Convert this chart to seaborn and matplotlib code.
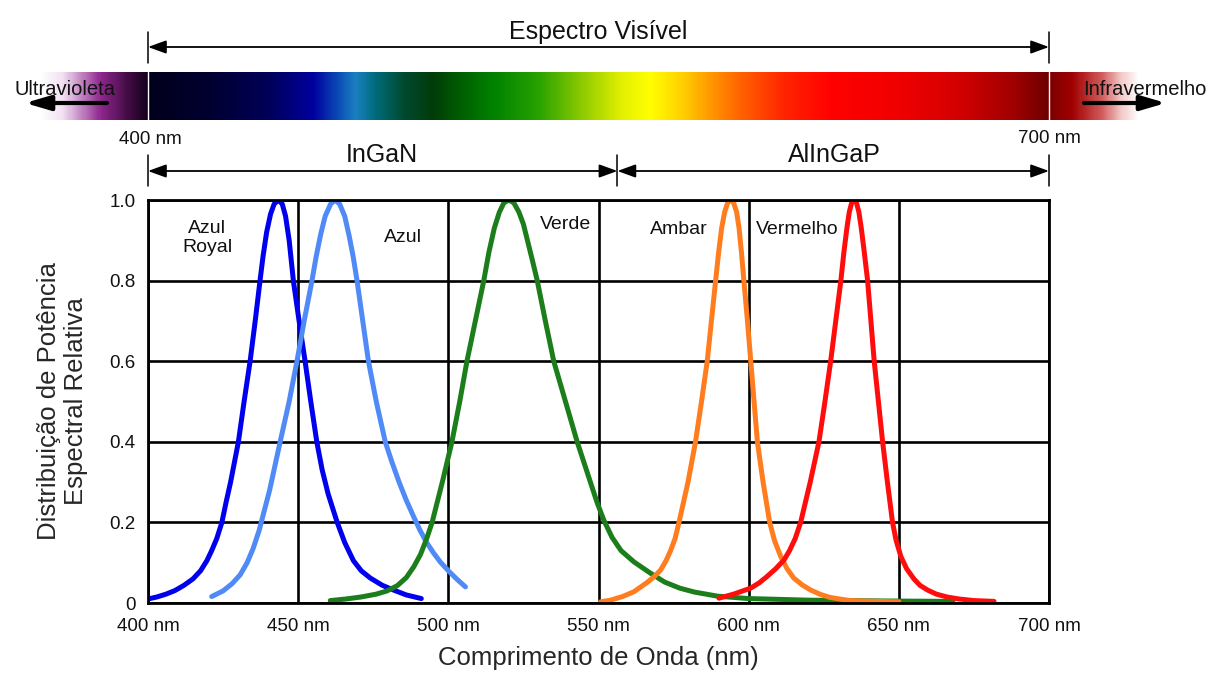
import numpy as np
import pandas as pd
import matplotlib
matplotlib.use("Agg")
import matplotlib.pyplot as plt
import seaborn as sns
from matplotlib.colors import LinearSegmentedColormap

# ---- Relative spectral power of each LED (wavelength in nm, relative power) ----
royal_nm = [400, 403, 406, 409, 412, 415, 417.5, 419.6, 421.2, 422.9, 424.6, 426, 427.5,
            428.8, 430.1, 432, 434, 435.7, 437.3, 438.3, 439.5, 440.8, 442, 443.4, 444.7,
            445.8, 447, 448.4, 450.3, 452.3, 454.2, 456.2, 458, 460, 463, 465.5, 468.4,
            471, 474, 478, 481.8, 486, 491]
royal_val = [0.010, 0.015, 0.022, 0.031, 0.044, 0.06, 0.08, 0.105, 0.13, 0.16, 0.20, 0.25, 0.30,
             0.35, 0.40, 0.50, 0.60, 0.70, 0.80, 0.86, 0.92, 0.965, 0.99, 1.00, 0.99,
             0.96, 0.90, 0.80, 0.70, 0.60, 0.50, 0.40, 0.33, 0.27, 0.20, 0.15, 0.105,
             0.08, 0.062, 0.044, 0.032, 0.02, 0.011]

blue_nm = [421.2, 425, 428, 430.7, 433, 435, 437, 440.5, 444, 447, 449.6, 452, 454.6,
           456, 457.5, 459, 460.8, 462.3, 463.8, 465.5, 467, 468.3, 469.6, 471.5, 473.4,
           476, 479, 481.2, 483.6, 486, 488.4, 490.6, 492.8, 495, 497.3, 500, 503, 505.7]
blue_val = [0.016, 0.03, 0.048, 0.07, 0.10, 0.135, 0.18, 0.28, 0.40, 0.50, 0.60, 0.70, 0.80,
            0.86, 0.915, 0.96, 0.99, 1.00, 0.99, 0.96, 0.91, 0.86, 0.80, 0.70, 0.60,
            0.50, 0.40, 0.35, 0.30, 0.255, 0.215, 0.18, 0.15, 0.125, 0.102, 0.08, 0.058, 0.04]

green_nm = [460.7, 466, 471, 476, 479.6, 483, 486, 488.5, 490.7, 492.8, 494.6, 498, 501.2,
            503.8, 506.2, 509, 511.8, 513.5, 515.3, 517, 518.5, 520.1, 521.8, 523.5, 525,
            526.5, 528, 529.6, 532.3, 535.1, 539, 542.9, 547.3, 549.5, 551.8, 554.5, 557.5,
            561.8, 567.3, 572, 577, 582, 589.6, 600, 620, 645, 668]
green_val = [0.006, 0.01, 0.015, 0.022, 0.03, 0.043, 0.063, 0.09, 0.12, 0.16, 0.20, 0.30, 0.40,
             0.50, 0.60, 0.70, 0.80, 0.87, 0.93, 0.97, 0.993, 1.00, 0.993, 0.97, 0.94,
             0.895, 0.85, 0.80, 0.70, 0.60, 0.50, 0.40, 0.30, 0.25, 0.205, 0.163, 0.13,
             0.102, 0.074, 0.052, 0.037, 0.027, 0.017, 0.011, 0.007, 0.005, 0.004]

amber_nm = [550.7, 554, 558, 561.8, 566, 568.5, 570.7, 572.5, 574, 575.5, 576.8, 579.8, 582.3,
            584.3, 586.2, 587.6, 589, 590, 591, 592, 593, 594, 595, 596, 596.8, 597.6,
            598.4, 599.6, 600.7, 601.8, 602.9, 604.8, 607, 608.6, 610.7, 612.8, 615,
            617.8, 620.7, 624, 627, 631, 634, 642, 650]
amber_val = [0.003, 0.007, 0.016, 0.028, 0.05, 0.065, 0.082, 0.105, 0.13, 0.16, 0.20, 0.30, 0.40,
             0.50, 0.60, 0.70, 0.80, 0.87, 0.93, 0.97, 0.993, 1.00, 0.993, 0.97, 0.93, 0.87,
             0.80, 0.70, 0.60, 0.50, 0.40, 0.30, 0.20, 0.155, 0.115, 0.085, 0.062,
             0.045, 0.032, 0.021, 0.014, 0.009, 0.006, 0.004, 0.003]

red_nm = [590.1, 595, 600.7, 603.5, 606, 609, 611.8, 613.6, 615.5, 617.3, 620.5, 623.4, 625.4,
          627.3, 629, 630.7, 631.7, 632.7, 633.5, 634.3, 635.1, 635.9, 636.7, 637.5, 638.5,
          639.6, 640.7, 641.8, 643.2, 644.6, 646.2, 647.9, 649.1, 650.7, 652.6, 655, 657,
          659.6, 662.5, 666, 670, 675, 681.7]
red_val = [0.012, 0.022, 0.037, 0.05, 0.065, 0.085, 0.107, 0.13, 0.16, 0.20, 0.30, 0.40, 0.50,
           0.60, 0.70, 0.80, 0.87, 0.93, 0.97, 0.993, 1.00, 0.993, 0.97, 0.93, 0.87,
           0.80, 0.70, 0.60, 0.50, 0.40, 0.30, 0.20, 0.155, 0.115, 0.085, 0.06, 0.044,
           0.032, 0.022, 0.015, 0.01, 0.006, 0.004]

series_names = ["Azul Royal", "Azul", "Verde", "Ambar", "Vermelho"]
series_colors = ["#0000ee", "#4f8af7", "#1b7e1b", "#ff7d1f", "#ff0d0d"]
label_texts = ["Azul\nRoyal", "Azul", "Verde", "Ambar", "Vermelho"]
label_nm = [419.7, 485.0, 539.0, 576.7, 616.0]
label_val = [0.906, 0.906, 0.938, 0.926, 0.926]

x_ticks = [400, 450, 500, 550, 600, 650, 700]
x_tick_labels = [f"{v} nm" for v in x_ticks]
y_ticks = [0, 0.2, 0.4, 0.6, 0.8, 1.0]
y_tick_labels = ["0", "0.2", "0.4", "0.6", "0.8", "1.0"]

# Band limits shown above the chart (nm)
visible_range = (400, 700)
ingan_range = (400, 556.3)
alingap_range = (556.3, 700)

# ---- Build long-form table for seaborn ----
frames = []
for name, xs, ys in zip(series_names,
                        [royal_nm, blue_nm, green_nm, amber_nm, red_nm],
                        [royal_val, blue_val, green_val, amber_val, red_val]):
    frames.append(pd.DataFrame({"nm": xs, "power": ys, "led": name}))
df = pd.concat(frames, ignore_index=True)

sns.set_style("white")
plt.rcParams["font.family"] = ["Liberation Sans", "DejaVu Sans"]
plt.rcParams["text.color"] = "#111111"

W, H = 1219, 673
fig = plt.figure(figsize=(W / 100, H / 100), dpi=100)
fig.patch.set_facecolor("white")

# plot area in pixels
L, R, T, B = 148, 1049, 200, 603

def px_to_nm(px):
    return 400 + (px - L) * 300.0 / (R - L)

# overlay for the spectrum band and annotations (x in nm, y in pixels from top)
ov = fig.add_axes([0, 0, 1, 1], zorder=0)
ov.set_xlim(px_to_nm(0), px_to_nm(W))
ov.set_ylim(H, 0)
ov.axis("off")
ov.patch.set_alpha(0)

ax = fig.add_axes([L / W, (H - B) / H, (R - L) / W, (B - T) / H], zorder=1)
ax.patch.set_alpha(0)

palette = dict(zip(series_names, series_colors))
sns.lineplot(data=df, x="nm", y="power", hue="led", hue_order=series_names,
             palette=palette, estimator=None, sort=True, legend=False,
             linewidth=3.6, ax=ax, solid_capstyle="round", solid_joinstyle="round")

ax.set_xlim(400, 700)
ax.set_ylim(0, 1)
ax.set_xticks(x_ticks)
ax.set_xticklabels(x_tick_labels)
ax.set_yticks(y_ticks)
ax.set_yticklabels(y_tick_labels)
ax.set_axisbelow(True)
ax.grid(True, color="black", linewidth=1.9)
for sp in ax.spines.values():
    sp.set_visible(True)
    sp.set_color("black")
    sp.set_linewidth(2.0)
ax.tick_params(axis="x", length=0, labelsize=13.5, pad=11, colors="#111111")
ax.tick_params(axis="y", length=0, labelsize=13.5, pad=9, colors="#111111")

ax.set_xlabel("Comprimento de Onda (nm)", fontsize=18.5, labelpad=8)
ax.set_ylabel("Distribuição de Potência\nEspectral Relativa", fontsize=18.5,
              linespacing=1.2, va="center")
ax.yaxis.set_label_coords(-0.095, 0.5)

for txt, xv, yv in zip(label_texts, label_nm, label_val):
    ax.text(xv, yv, txt, fontsize=14, ha="center", va="center", linespacing=1.15)

# ---- spectrum band ----
band_x0, band_x1 = px_to_nm(40), px_to_nm(1140)
stops = [
    (band_x0, "#ffffff"), (px_to_nm(62), "#f2e0f2"), (px_to_nm(100), "#8e268e"),
    (px_to_nm(130), "#3a0a3c"), (399.9, "#14001e"),
    (400, "#02001c"), (420, "#000030"), (440, "#000058"), (455, "#0000a0"),
    (463, "#0a4ab4"), (469, "#1a80c0"), (476, "#006a78"), (485, "#004a30"),
    (495, "#003c08"), (505, "#006200"), (515, "#008200"), (530, "#28a200"),
    (545, "#90cc00"), (558, "#e4f000"), (567, "#ffff00"), (578, "#ffd000"),
    (588, "#ff9400"), (598, "#ff6000"), (612, "#ff2400"), (628, "#ff0000"),
    (650, "#f00000"), (670, "#d40000"), (688, "#a20000"), (699.9, "#6e0000"),
    (700, "#7a0000"), (px_to_nm(1073), "#a00000"), (px_to_nm(1103), "#d25c5c"),
    (px_to_nm(1122), "#f2c8c8"), (band_x1, "#ffffff"),
]
pos = [(s[0] - band_x0) / (band_x1 - band_x0) for s in stops]
cmap = LinearSegmentedColormap.from_list("spectrum", list(zip(pos, [s[1] for s in stops])), N=1024)
ov.imshow(np.linspace(0, 1, 1100)[None, :], cmap=cmap, aspect="auto",
          extent=[band_x0, band_x1, 120, 72], interpolation="bilinear", zorder=1)
ov.set_xlim(px_to_nm(0), px_to_nm(W))
ov.set_ylim(H, 0)
for edge in visible_range:
    ov.plot([edge, edge], [72, 120], color="white", lw=1.0, zorder=2)

def span_arrow(x0, x1, y):
    ov.annotate("", xy=(x1, y), xytext=(x0, y),
                arrowprops=dict(arrowstyle="<|-|>,head_length=0.55,head_width=0.2",
                                color="black", lw=1.3, mutation_scale=20,
                                shrinkA=0, shrinkB=0))

# visible spectrum span
span_arrow(visible_range[0], visible_range[1], 47)
for edge in visible_range:
    ov.plot([edge, edge], [32, 63], color="black", lw=1.1)
ov.text(550, 39, "Espectro Visível", fontsize=18, ha="center", va="baseline")

# InGaN / AlInGaP spans
span_arrow(ingan_range[0], ingan_range[1], 171)
span_arrow(alingap_range[0], alingap_range[1], 171)
for edge in (ingan_range[0], ingan_range[1], alingap_range[1]):
    ov.plot([edge, edge], [155, 186], color="black", lw=1.1)
ov.text(478, 162, "InGaN", fontsize=18, ha="center", va="baseline")
ov.text(628.7, 162, "AlInGaP", fontsize=18, ha="center", va="baseline")

# band edge labels
ov.text(400.7, 144, "400 nm", fontsize=13.5, ha="center", va="baseline")
ov.text(700.3, 143, "700 nm", fontsize=13.5, ha="center", va="baseline")

# UV / IR labels with arrows
ov.text(px_to_nm(14), 95, "Ultravioleta", fontsize=14.5, ha="left", va="baseline")
ov.text(px_to_nm(1083), 95, "Infravermelho", fontsize=14.5, ha="left", va="baseline")
ov.annotate("", xy=(px_to_nm(25), 103), xytext=(px_to_nm(107), 103),
            arrowprops=dict(arrowstyle="-|>,head_length=0.75,head_width=0.22",
                            color="black", lw=3.0, mutation_scale=20,
                            shrinkA=0, shrinkB=0))
ov.annotate("", xy=(px_to_nm(1166), 103), xytext=(px_to_nm(1084), 103),
            arrowprops=dict(arrowstyle="-|>,head_length=0.75,head_width=0.22",
                            color="black", lw=3.0, mutation_scale=20,
                            shrinkA=0, shrinkB=0))

fig.savefig("out.png", dpi=100, facecolor="white")
